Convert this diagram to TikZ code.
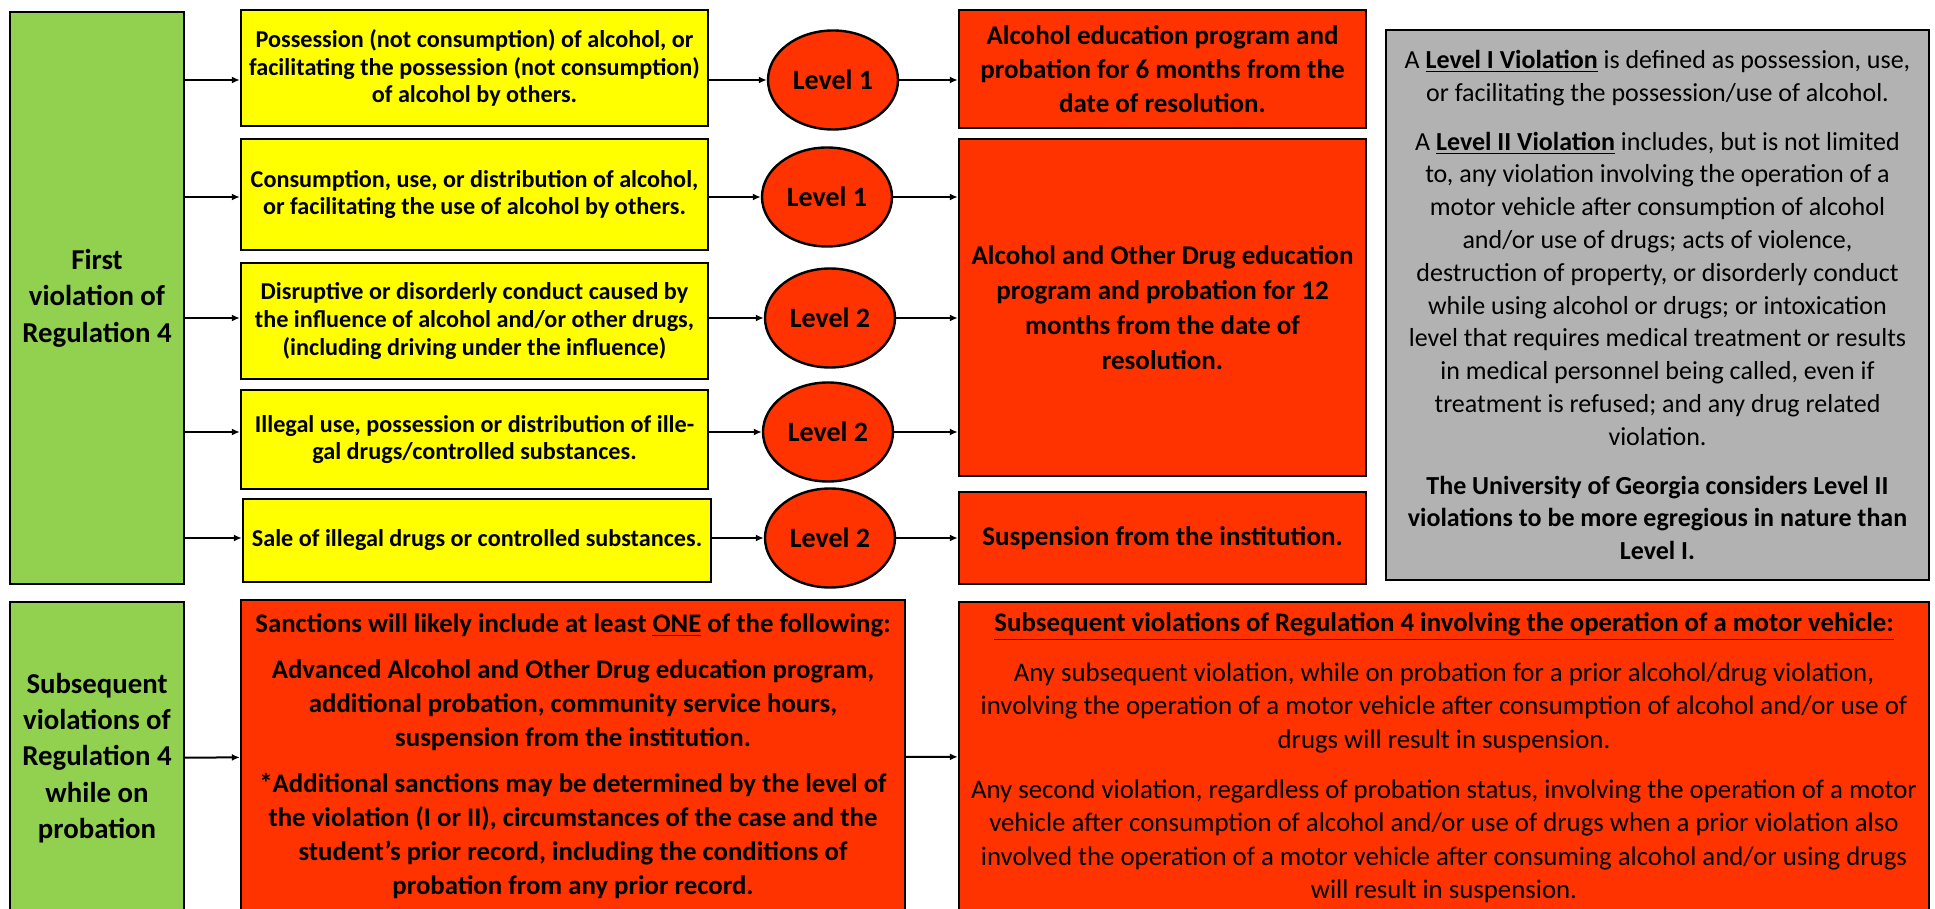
\documentclass[tikz,border=0pt]{standalone}
\usepackage{fontspec}
\setmainfont{Carlito}
\usetikzlibrary{shapes.geometric,arrows.meta}
\definecolor{regreen}{HTML}{92D050}
\definecolor{reyellow}{HTML}{FFFF00}
\definecolor{rered}{HTML}{FF3300}
\definecolor{regray}{HTML}{B2B2B2}
\begin{document}
\begin{tikzpicture}[x=0.5pt,y=-0.5pt,>={Latex[length=4pt,width=3.5pt]},
  box/.style={draw=black, line width=1.2pt, inner sep=0pt, align=center},
  greenbox/.style={box, fill=regreen, minimum width=87pt, font=\fontsize{14.4}{18.2}\selectfont\bfseries},
  casebox/.style={box, fill=reyellow, minimum width=233.5pt, font=\fontsize{12.1}{13.9}\selectfont\bfseries},
  sanctionbox/.style={box, fill=rered, minimum width=203.5pt, font=\fontsize{13.5}{17}\selectfont\bfseries},
  notebox/.style={box, fill=regray, font=\fontsize{13}{16.4}\selectfont},
  level/.style={ellipse, draw=black, line width=1.2pt, fill=rered, inner sep=0pt,
    minimum width=65pt, minimum height=49.5pt, font=\fontsize{14}{16}\selectfont\bfseries},
  arr/.style={->, line width=1pt}]
\useasboundingbox (0,0) rectangle (1935,909);
\fill[white] (0,0) rectangle (1935,909);
\clip (0,0) rectangle (1935,909);
% first violation
\node[greenbox, minimum height=286pt] (first) at (97,298) {First\\violation of\\Regulation 4};
\node[casebox, minimum height=58pt] (case1) at (474.5,68) {Possession (not consumption) of alcohol, or\\facilitating the possession (not consumption)\\of alcohol by others.};
\node[casebox, minimum height=55.5pt] (case2) at (474.5,194.5) {Consumption, use, or distribution of alcohol,\\or facilitating the use of alcohol by others.};
\node[casebox, minimum height=58pt] (case3) at (474.5,321) {Disruptive or disorderly conduct caused by\\the influence of alcohol and/or other drugs,\\(including driving under the influence)};
\node[casebox, minimum height=49.5pt] (case4) at (474.5,439.5) {Illegal use, possession or distribution of ille-\\gal drugs/controlled substances.};
\node[casebox, minimum height=41.5pt, minimum width=234pt] (case5) at (477,540.5) {Sale of illegal drugs or controlled substances.};
\node[level] (lvl1) at (833,80) {Level 1};
\node[level] (lvl2) at (827,197) {Level 1};
\node[level] (lvl3) at (830,318) {Level 2};
\node[level] (lvl4) at (828,432) {Level 2};
\node[level] (lvl5) at (830,538) {Level 2};
\node[sanctionbox, minimum height=59pt] (sanc1) at (1162.5,69) {Alcohol education program and\\probation for 6 months from the\\date of resolution.};
\node[sanctionbox, minimum height=168.5pt, font=\fontsize{13.5}{17.4}\selectfont\bfseries] (sanc2) at (1162.5,307.5) {Alcohol and Other Drug education\\program and probation for 12\\months from the date of\\resolution.};
\node[sanctionbox, minimum height=46pt] (sanc3) at (1162.5,538) {Suspension from the institution.};
\node[notebox, minimum width=271.5pt, minimum height=275pt] (note) at (1657.5,305) {A \textbf{\underline{Level I Violation}} is defined as possession, use,\\or facilitating the possession/use of alcohol.\\[8pt]
A \textbf{\underline{Level II Violation}} includes, but is not limited\\to, any violation involving the operation of a\\motor vehicle after consumption of alcohol\\and/or use of drugs; acts of violence,\\destruction of property, or disorderly conduct\\while using alcohol or drugs; or intoxication\\level that requires medical treatment or results\\in medical personnel being called, even if\\treatment is refused; and any drug related\\violation.\\[8pt]
\textbf{The University of Georgia considers Level II}\\\textbf{violations to be more egregious in nature than}\\\textbf{Level I.}};
\foreach \i in {1,...,5}{
  \draw[arr] (first.east |- lvl\i) -- (case\i.west |- lvl\i);
  \draw[arr] (case\i.east |- lvl\i) -- (lvl\i.west);
}
\draw[arr] (lvl1.east) -- (sanc1.west |- lvl1);
\draw[arr] (lvl2.east) -- (sanc2.west |- lvl2);
\draw[arr] (lvl3.east) -- (sanc2.west |- lvl3);
\draw[arr] (lvl4.east) -- (sanc2.west |- lvl4);
\draw[arr] (lvl5.east) -- (sanc3.west |- lvl5);
% subsequent violations
\node[greenbox, minimum height=156pt] (later) at (97,758) {Subsequent\\violations of\\Regulation 4\\while on\\probation};
\node[sanctionbox, minimum width=332pt, minimum height=156pt, font=\fontsize{13.4}{17}\selectfont\bfseries] (atleast) at (573,756) {Sanctions will likely include at least \underline{ONE} of the following:\\[6pt]
Advanced Alcohol and Other Drug education program,\\additional probation, community service hours,\\suspension from the institution.\\[6pt]
*Additional sanctions may be determined by the level of\\the violation (I or II), circumstances of the case and the\\student’s prior record, including the conditions of\\probation from any prior record.};
\node[sanctionbox, minimum width=485pt, minimum height=156pt, font=\fontsize{13.4}{16.8}\selectfont] (vehicle) at (1444,758) {\textbf{\underline{Subsequent violations of Regulation 4 involving the operation of a motor vehicle:}}\\[8pt]
Any subsequent violation, while on probation for a prior alcohol/drug violation,\\involving the operation of a motor vehicle after consumption of alcohol and/or use of\\drugs will result in suspension.\\[8pt]
Any second violation, regardless of probation status, involving the operation of a motor\\vehicle after consumption of alcohol and/or use of drugs when a prior violation also\\involved the operation of a motor vehicle after consuming alcohol and/or using drugs\\will result in suspension.};
\draw[arr] (later) -- (atleast);
\draw[arr] (atleast) -- (vehicle);
\end{tikzpicture}
\end{document}
